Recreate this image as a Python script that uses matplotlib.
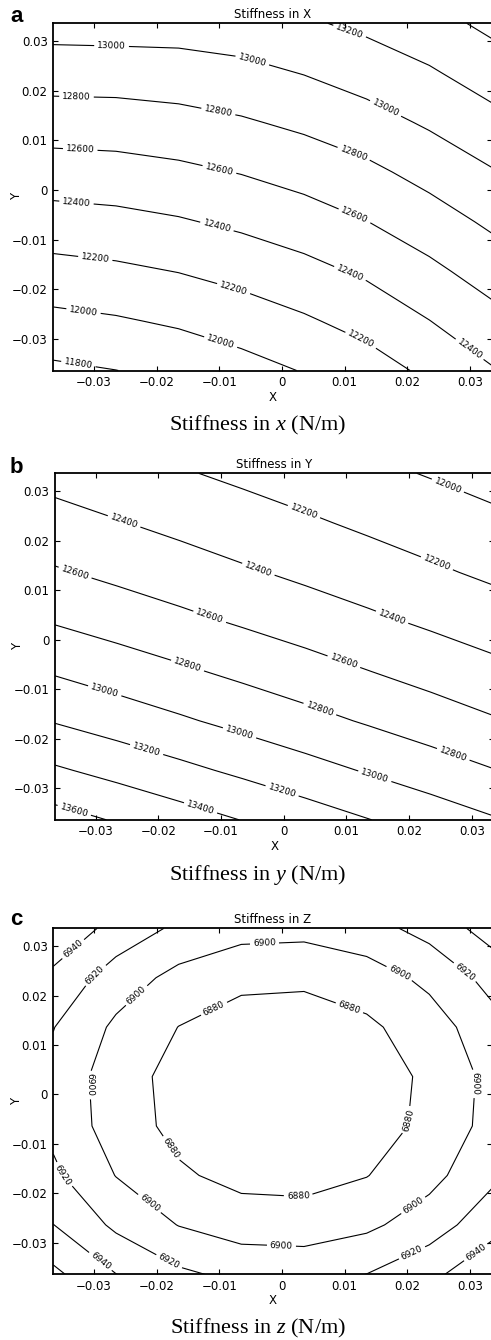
import matplotlib
matplotlib.use('Agg')
import matplotlib.pyplot as plt
import numpy as np

plt.rcParams['font.family'] = ['DejaVu Sans']
plt.rcParams['mathtext.fontset'] = 'custom'
plt.rcParams['mathtext.rm'] = 'Liberation Serif'
plt.rcParams['mathtext.it'] = 'Liberation Serif:italic'

# sample grid (m)
grid_x = [-0.0365, -0.0265, -0.0165, -0.0065, 0.0035, 0.0135, 0.0235, 0.0335]
grid_y = [-0.0364, -0.0264, -0.0164, -0.0064, 0.0036, 0.0136, 0.0236, 0.0336]

# stiffness values (N/m), one row per grid_y, one column per grid_x
stiffness_x = [
    [11761, 11798, 11851, 11925, 12010, 12108, 12241, 12385],
    [11948, 11980, 12028, 12095, 12175, 12269, 12397, 12536],
    [12133, 12162, 12205, 12266, 12340, 12431, 12554, 12686],
    [12320, 12342, 12382, 12439, 12508, 12597, 12709, 12835],
    [12508, 12524, 12558, 12608, 12675, 12754, 12866, 12986],
    [12698, 12705, 12733, 12778, 12840, 12922, 13026, 13139],
    [12890, 12894, 12911, 12946, 13007, 13087, 13177, 13293],
    [13083, 13090, 13089, 13114, 13173, 13244, 13329, 13448],
]
stiffness_y = [
    [13677, 13583, 13488, 13394, 13300, 13205, 13111, 13016],
    [13425, 13337, 13248, 13160, 13071, 12983, 12895, 12806],
    [13188, 13106, 13025, 12943, 12862, 12780, 12698, 12617],
    [12981, 12905, 12830, 12754, 12679, 12603, 12528, 12452],
    [12788, 12718, 12649, 12579, 12510, 12440, 12370, 12301],
    [12619, 12554, 12489, 12424, 12359, 12294, 12229, 12164],
    [12471, 12410, 12349, 12288, 12227, 12165, 12104, 12043],
    [12332, 12274, 12217, 12159, 12102, 12044, 11987, 11929],
]
stiffness_z = [
    [6964.6, 6940.3, 6923.7, 6914.8, 6913.6, 6920.2, 6934.5, 6956.5],
    [6940.3, 6916.0, 6899.4, 6890.5, 6889.4, 6895.9, 6910.2, 6932.2],
    [6923.8, 6899.5, 6882.9, 6874.0, 6872.9, 6879.4, 6893.7, 6915.7],
    [6915.0, 6890.7, 6874.1, 6865.2, 6864.1, 6870.6, 6884.9, 6906.9],
    [6913.9, 6889.6, 6873.0, 6864.1, 6863.0, 6869.5, 6883.8, 6905.8],
    [6920.6, 6896.3, 6879.7, 6870.8, 6869.6, 6876.2, 6890.5, 6912.5],
    [6934.9, 6910.6, 6894.0, 6885.1, 6884.0, 6890.5, 6904.8, 6926.8],
    [6957.0, 6932.7, 6916.1, 6907.2, 6906.1, 6912.6, 6926.9, 6948.9],
]

levels_x = [11800, 12000, 12200, 12400, 12600, 12800, 13000, 13200, 13400]
levels_y = [12000, 12200, 12400, 12600, 12800, 13000, 13200, 13400, 13600]
levels_z = [6880, 6900, 6920, 6940, 6960]

tick_values = [-0.03, -0.02, -0.01, 0, 0.01, 0.02, 0.03]
tick_labels = ['\u22120.03', '\u22120.02', '\u22120.01', '0', '0.01', '0.02', '0.03']

# where the contour labels sit (data coords)
spots_x = [(-0.0272, 0.0293), (-0.0048, 0.0259), (0.0167, 0.0169), (0.0108, 0.0321),
           (-0.0328, 0.0189), (-0.0102, 0.0156), (0.0114, 0.0072),
           (-0.0322, 0.0082), (-0.0100, 0.0041), (0.0114, -0.0057),
           (-0.0328, -0.0025), (-0.0104, -0.0074), (0.0106, -0.0175), (0.0300, -0.0320),
           (-0.0298, -0.0138), (-0.0078, -0.0202), (0.0123, -0.0310),
           (-0.0317, -0.0246), (-0.0098, -0.0307), (-0.0325, -0.0351)]
spots_y = [(0.0258, 0.0299), (0.0032, 0.0258), (0.0243, 0.0150),
           (-0.0255, 0.0238), (-0.0042, 0.0137), (0.0171, 0.0039),
           (-0.0335, 0.0127), (-0.0119, 0.0043), (0.0093, -0.0055),
           (-0.0156, -0.0062), (0.0056, -0.0146), (0.0269, -0.0237),
           (-0.0287, -0.0109), (-0.0071, -0.0190), (0.0144, -0.0281),
           (-0.0220, -0.0227), (-0.0005, -0.0315), (-0.0135, -0.0349), (-0.0335, -0.0348)]
spots_z = [(-0.0336, 0.0298), (-0.0302, 0.0247), (-0.0235, 0.0204), (-0.0028, 0.0305),
           (0.0188, 0.0247), (0.0294, 0.0251), (-0.0110, 0.0177), (0.0108, 0.0177),
           (-0.0310, 0.0019), (0.0305, 0.0022), (0.0196, -0.0052), (-0.0177, -0.0109),
           (-0.0349, -0.0163), (-0.0211, -0.0220), (0.0026, -0.0206), (0.0209, -0.0224),
           (-0.0001, -0.0308), (-0.0179, -0.0335), (0.0209, -0.0325),
           (-0.0288, -0.0335), (0.0310, -0.0321)]

W, H = 491, 1340
fig = plt.figure(figsize=(W / 100, H / 100), dpi=100)

panels = [
    # data, levels, spots, title, caption, letter, (left, top, bottom) px, caption baseline, letter baseline
    (stiffness_x, levels_x, spots_x, 'Stiffness in X', 'Stiffness in $x$ (N/m)', 'a', (53.3, 23.3, 370.5), 430.5, 21.5),
    (stiffness_y, levels_y, spots_y, 'Stiffness in Y', 'Stiffness in $y$ (N/m)', 'b', (55.0, 473.3, 819.8), 880.0, 472.5),
    (stiffness_z, levels_z, spots_z, 'Stiffness in Z', 'Stiffness in $z$ (N/m)', 'c', (53.3, 928.3, 1274.3), 1333.0, 925.0),
]

for Z, levels, spots, title, caption, letter, (left, top, bottom), cap_y, let_y in panels:
    ax = fig.add_axes([left / W, 1 - bottom / H, 438.7 / W, (bottom - top) / H])
    cs = ax.contour(grid_x, grid_y, np.array(Z), levels=levels, colors='k', linewidths=0.8)
    ax.clabel(cs, levels, fmt='%d', fontsize=6.5, inline=True, inline_spacing=3, manual=spots)

    ax.set_xlim(-0.0365, 0.0335)
    ax.set_ylim(-0.0364, 0.0336)
    ax.set_xticks(tick_values)
    ax.set_xticklabels(tick_labels)
    ax.set_yticks(tick_values)
    ax.set_yticklabels(tick_labels)
    ax.tick_params(direction='in', top=True, right=True, length=3.5, width=0.8,
                   labelsize=8.5, pad=4)
    for sp in ax.spines.values():
        sp.set_linewidth(1.3)

    ax.set_title(title, fontsize=8.5, pad=3.5)
    ax.set_xlabel('X', fontsize=8.5)
    ax.set_ylabel('Y', fontsize=8.5)
    ax.xaxis.set_label_coords(0.5, -0.058)
    ax.yaxis.set_label_coords(-0.07, 0.5)

    fig.text(257.5 / W, 1 - cap_y / H, caption, ha='center', va='baseline',
             fontsize=16, family='Liberation Serif')
    fig.text(10 / W, 1 - let_y / H, letter, ha='left', va='baseline',
             fontsize=16, fontweight='bold', family='Liberation Sans')

fig.savefig('out.png', dpi=100)
